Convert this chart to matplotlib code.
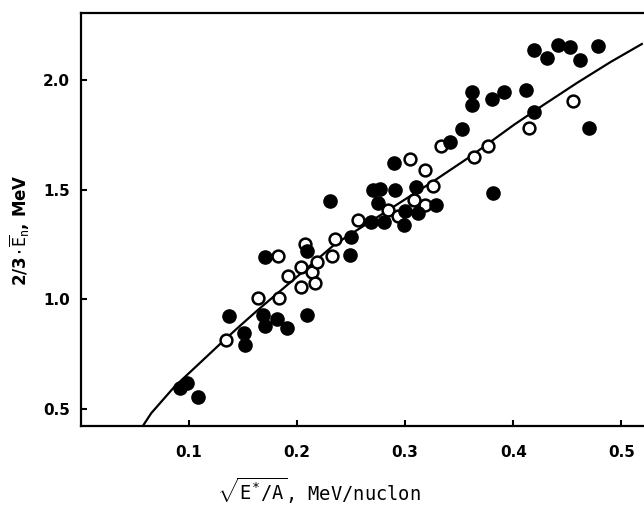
import matplotlib
matplotlib.use("Agg")
import matplotlib.pyplot as plt

# Filled circles (x, y)
filled_x = [0.0916, 0.0978, 0.1086, 0.1368, 0.1510, 0.1516, 0.1700, 0.1685, 0.1700, 0.1810,
            0.1910, 0.2091, 0.2089, 0.2304, 0.2498, 0.2489, 0.2684, 0.2807, 0.2992, 0.2747,
            0.2701, 0.2771, 0.2907, 0.2998, 0.3121, 0.3284, 0.3100, 0.2896, 0.3416, 0.3527,
            0.3616, 0.3616, 0.3807, 0.3914, 0.4114, 0.4191, 0.3816, 0.4191, 0.4308, 0.4413,
            0.4524, 0.4616, 0.4786, 0.4699]
filled_y = [0.597, 0.619, 0.558, 0.925, 0.847, 0.793, 1.195, 0.930, 0.880, 0.910,
            0.872, 0.928, 1.220, 1.446, 1.286, 1.203, 1.354, 1.354, 1.341, 1.441,
            1.498, 1.503, 1.498, 1.403, 1.392, 1.430, 1.512, 1.620, 1.715, 1.775,
            1.943, 1.883, 1.913, 1.943, 1.954, 1.852, 1.483, 2.136, 2.098, 2.156,
            2.148, 2.087, 2.151, 1.779]

# Open circles (x, y)
open_x = [0.1342, 0.1636, 0.1836, 0.1826, 0.1916, 0.2032, 0.2038, 0.2069, 0.2140, 0.2168,
          0.2184, 0.2322, 0.2346, 0.2567, 0.2839, 0.2938, 0.3084, 0.3183, 0.3258, 0.3183,
          0.3047, 0.3335, 0.3633, 0.3762, 0.4146, 0.4552]
open_y = [0.818, 1.008, 1.005, 1.197, 1.107, 1.058, 1.149, 1.253, 1.126, 1.077,
          1.172, 1.198, 1.274, 1.360, 1.408, 1.378, 1.452, 1.432, 1.517, 1.589,
          1.639, 1.697, 1.650, 1.698, 1.780, 1.903]

# Fitted curve
curve_x = [0.0574, 0.065, 0.0866, 0.1082, 0.1327, 0.148, 0.1636, 0.2038, 0.2346, 0.2839,
           0.3268, 0.3602, 0.4008, 0.428, 0.459, 0.49, 0.519]
curve_y = [0.426, 0.483, 0.604, 0.703, 0.816, 0.884, 0.952, 1.12, 1.25, 1.405,
           1.540, 1.650, 1.795, 1.885, 1.985, 2.080, 2.162]

xticks = [0.1, 0.2, 0.3, 0.4, 0.5]
xtick_labels = ["0.1", "0.2", "0.3", "0.4", "0.5"]
yticks = [0.5, 1.0, 1.5, 2.0]
ytick_labels = ["0.5", "1.0", "1.5", "2.0"]

plt.rcParams['mathtext.fontset'] = 'custom'
plt.rcParams['mathtext.rm'] = 'DejaVu Sans Mono'
plt.rcParams['mathtext.it'] = 'DejaVu Sans Mono'
plt.rcParams['mathtext.bf'] = 'DejaVu Sans Mono:bold'

fig = plt.figure(figsize=(6.44, 5.08), dpi=100)
ax = fig.add_axes([81/644, 1 - 425.7/508, 1 - 81/644, (425.7 - 13)/508])

ax.plot(curve_x, curve_y, color='black', lw=1.6, zorder=2)
ax.plot(open_x, open_y, 'o', ms=8.5, mfc='white', mec='black', mew=1.8, ls='none', zorder=3)
ax.plot(filled_x, filled_y, 'o', ms=9.5, mfc='black', mec='black', ls='none', zorder=4)

ax.set_xlim(0.0, 0.521)
ax.set_ylim(0.426, 2.303)
ax.set_xticks(xticks)
ax.set_xticklabels(xtick_labels, fontweight='bold', fontsize=11)
ax.set_yticks(yticks)
ax.set_yticklabels(ytick_labels, fontweight='bold', fontsize=11)
ax.tick_params(direction='in', length=4, width=1.5, pad=14)
ax.tick_params(axis='y', pad=8)

for s in ['left', 'bottom', 'top']:
    ax.spines[s].set_linewidth(1.6)
ax.spines['right'].set_visible(False)

fig.text(319/644, 1 - 491/508, r"$\sqrt{E^{*}/A}$, MeV/nuclon", ha='center', va='center',
         fontsize=13.5, family='DejaVu Sans Mono')
fig.text(20/644, 1 - 230/508, r"2/3$\cdot\overline{E}_n$, MeV", ha='center', va='center',
         rotation=90, fontsize=12, fontweight='bold')

fig.savefig("out.png", dpi=100)
